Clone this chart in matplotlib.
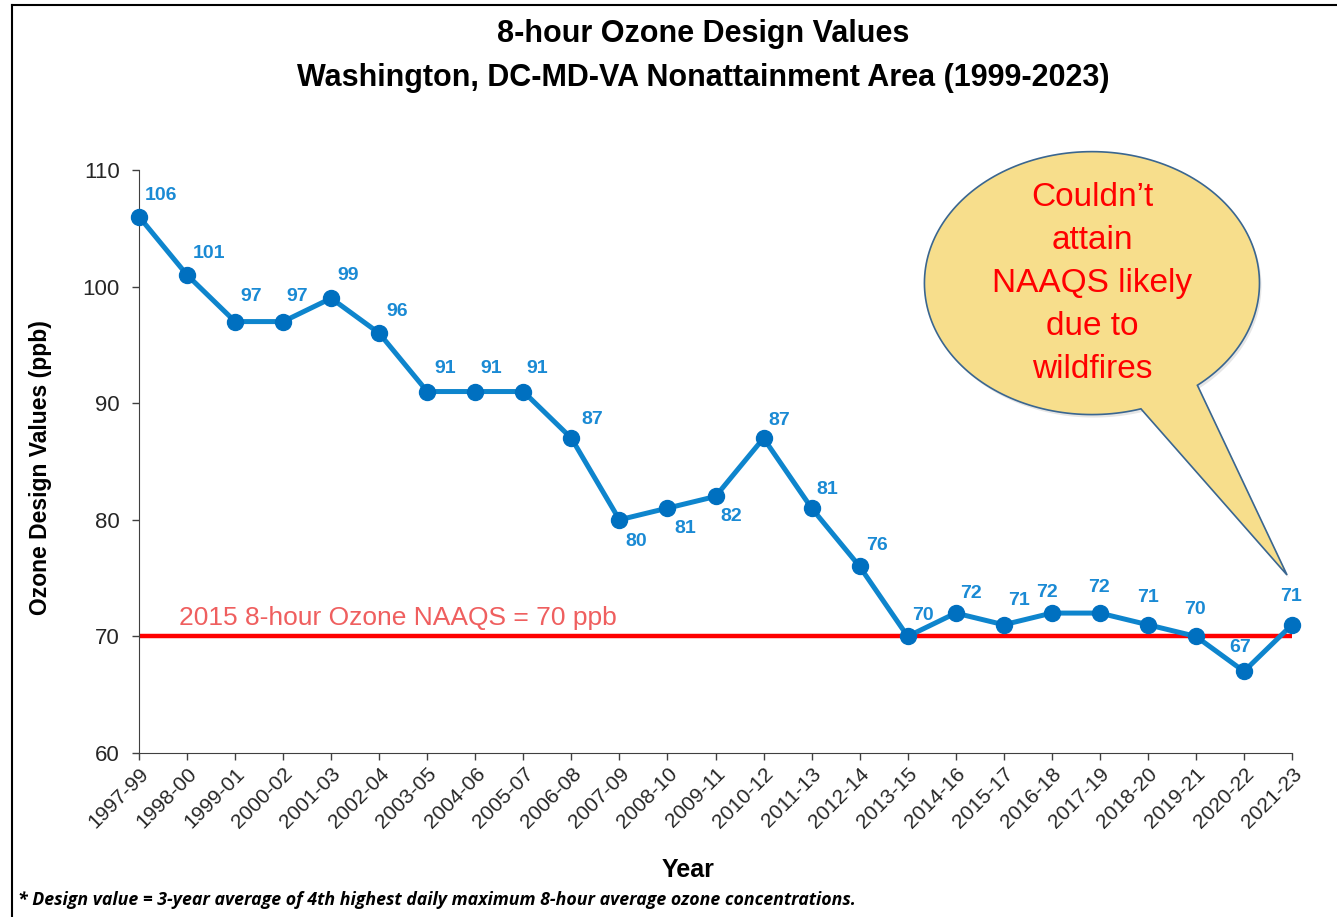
import numpy as np
import matplotlib
matplotlib.use("Agg")
import matplotlib.pyplot as plt
from matplotlib.path import Path
from matplotlib.patches import PathPatch
from matplotlib.lines import Line2D
from matplotlib.transforms import ScaledTranslation

periods = ["1997-99", "1998-00", "1999-01", "2000-02", "2001-03", "2002-04",
           "2003-05", "2004-06", "2005-07", "2006-08", "2007-09", "2008-10",
           "2009-11", "2010-12", "2011-13", "2012-14", "2013-15", "2014-16",
           "2015-17", "2016-18", "2017-19", "2018-20", "2019-21", "2020-22",
           "2021-23"]
design_values = [106, 101, 97, 97, 99, 96, 91, 91, 91, 87, 80, 81, 82, 87,
                 81, 76, 70, 72, 71, 72, 72, 71, 70, 67, 71]
naaqs = 70
yticks = [60, 70, 80, 90, 100, 110]

# label offsets from each point, in pixels (right, down)
label_off = [(22, -21), (22, -21), (16, -25), (14, -25), (17, -23), (18, -22),
             (18, -23), (16, -23), (14, -23), (21, -19), (17, 22), (18, 20),
             (16, 20), (16, -18), (16, -19), (17, -21), (15, -21), (15, -20),
             (15, -24), (-5, -21), (-1, -26), (0, -27), (-1, -27), (-4, -24),
             (-1, -28)]

arial = ["Liberation Sans", "DejaVu Sans"]

fig = plt.figure(figsize=[13.37, 9.17], dpi=100)
ax = fig.add_axes([139/1337, 1-753/917, 1153/1337, 583/917])

x = np.arange(len(periods))
ax.axhline(naaqs, color="#FF0000", lw=3.2, zorder=2)
ax.plot(x, design_values, color="#0E85CD", lw=3.6, zorder=3, clip_on=False)
ax.plot(x, design_values, "o", color="#0070C0", ms=11.5, zorder=4, clip_on=False)

for i, v in enumerate(design_values):
	dx, dy = label_off[i]
	ax.annotate(str(v), (x[i], v), xytext=(dx*0.72, -dy*0.72), textcoords="offset points",
				ha="center", va="center", color="#1A8AD4", fontsize=14,
				fontweight="bold", family=arial, zorder=5)

ax.text(0.83, naaqs + 0.55, "2015 8-hour Ozone NAAQS = 70 ppb", color="#EF5F5F",
		fontsize=19, family=arial, ha="left", va="bottom", zorder=5)

ax.set_xlim(0, len(periods)-1)
ax.set_ylim(60, 110)
ax.set_yticks(yticks)
ax.set_xticks(x)
ax.set_xticklabels(periods, rotation=45, ha="right", rotation_mode="anchor",
				   fontsize=15, family=arial, color="#262626")
for lab in ax.get_yticklabels():
	lab.set_fontsize(16)
	lab.set_family(arial)
	lab.set_color("#262626")
ax.tick_params(axis="both", direction="out", length=5, width=1, color="#404040")
ax.tick_params(axis="y", pad=9)
ax.tick_params(axis="x", pad=3)
for s in ["top", "right"]:
	ax.spines[s].set_visible(False)
for s in ["left", "bottom"]:
	ax.spines[s].set_color("#404040")

ax.set_ylabel("Ozone Design Values (ppb)", fontsize=16.5, fontweight="bold", family=arial)
ax.yaxis.set_label_coords(-0.0755, 0.489)
ax.set_xlabel("Year", fontsize=18, fontweight="bold", family=arial)
ax.xaxis.set_label_coords(0.476, -0.180)

# speech bubble (axes fraction)
cx, cy, a, b = 0.8265, 0.806, 0.1453, 0.2255
t = np.radians(np.linspace(-51, 287, 200))
verts = [(cx + a*np.cos(tt), cy + b*np.sin(tt)) for tt in t]
verts.append((0.9957, 0.3053))
verts.append(verts[0])
codes = [Path.MOVETO] + [Path.LINETO]*(len(verts)-2) + [Path.CLOSEPOLY]
shadow = PathPatch(Path(verts, codes), facecolor="#E6E6E6", edgecolor="none",
				   clip_on=False, zorder=5)
shadow.set_transform(ax.transAxes + ScaledTranslation(2/100, -3/100, fig.dpi_scale_trans))
ax.add_patch(shadow)
bubble = PathPatch(Path(verts, codes), transform=ax.transAxes, facecolor="#F7DE8C",
				   edgecolor="#3A6690", lw=1.2, clip_on=False, zorder=6)
ax.add_patch(bubble)
ax.text(cx, cy, "Couldn\u2019t\nattain\nNAAQS likely\ndue to\nwildfires", transform=ax.transAxes,
		ha="center", va="center", color="#FF0000", fontsize=24, family=arial,
		linespacing=1.5, zorder=7)

fig.text(703/1337, 1-34/917, "8-hour Ozone Design Values", ha="center", va="center",
		 fontsize=22, family=arial, fontweight="bold")
fig.text(703/1337, 1-78/917, "Washington, DC-MD-VA Nonattainment Area (1999-2023)", ha="center",
		 va="center", fontsize=22, family=arial, fontweight="bold")
fig.text(18/1337, 1-900/917, "* Design value = 3-year average of 4th highest daily maximum 8-hour average ozone concentrations.",
		 ha="left", va="center", fontsize=12.8, fontweight="bold", fontstyle="italic", family=["Open Sans", "DejaVu Sans"])

fig.add_artist(Line2D([12/1337, 1], [1-5/917, 1-5/917], color="black", lw=1.5, transform=fig.transFigure))
fig.add_artist(Line2D([12/1337, 12/1337], [0, 1-5/917], color="black", lw=1.5, transform=fig.transFigure))

fig.savefig("out.png", dpi=100)
